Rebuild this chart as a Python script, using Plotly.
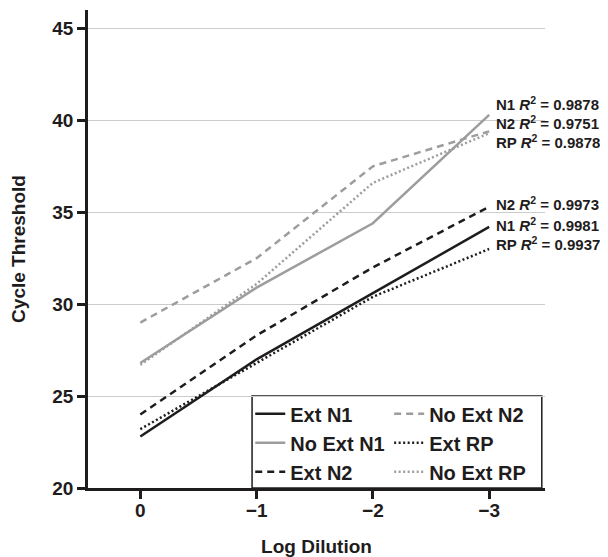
import plotly.graph_objects as go

# ---- data ----
log_dilution = [0, -1, -2, -3]
ext_n1 = [22.8, 27.0, 30.6, 34.2]
no_ext_n1 = [26.8, 30.9, 34.4, 40.3]
ext_n2 = [24.0, 28.3, 32.0, 35.3]
no_ext_n2 = [29.0, 32.5, 37.5, 39.4]
ext_rp = [23.2, 26.8, 30.4, 33.0]
no_ext_rp = [26.7, 31.1, 36.6, 39.3]

y_ticks = [20, 25, 30, 35, 40, 45]

# R^2 labels (right side), top group = No Ext, bottom group = Ext
r2_labels = ["N1", "N2", "RP", "N2", "N1", "RP"]
r2_values = ["0.9878", "0.9751", "0.9878", "0.9973", "0.9981", "0.9937"]
r2_label_y = [40.91, 39.88, 38.84, 35.45, 34.33, 33.30]

BLACK = "#1f1c1d"
GRAY = "#9d9d9d"
FONT = "Liberation Sans"
DASH = "7px,5px"
DOT = "2px,2.5px"

# (name, values, colour, dash, legend column)
series = [
    ("Ext N1", ext_n1, BLACK, "solid", "legend"),
    ("No Ext N1", no_ext_n1, GRAY, "solid", "legend"),
    ("Ext N2", ext_n2, BLACK, DASH, "legend"),
    ("No Ext N2", no_ext_n2, GRAY, DASH, "legend2"),
    ("Ext RP", ext_rp, BLACK, DOT, "legend2"),
    ("No Ext RP", no_ext_rp, GRAY, DOT, "legend2"),
]

fig = go.Figure()
for name, vals, color, dash, leg in series:
    fig.add_trace(go.Scatter(
        x=log_dilution, y=vals, mode="lines", name=name,
        line=dict(color=color, width=2.5, dash=dash),
        legend=leg,
    ))

for lab, val, yv in zip(r2_labels, r2_values, r2_label_y):
    fig.add_annotation(
        x=0.889, xref="paper", y=yv, yref="y",
        text=f"<b>{lab} <i>R</i><sup>2</sup> = {val}</b>",
        showarrow=False, xanchor="left", yanchor="middle",
        font=dict(family=FONT, size=15, color=BLACK),
    )

# legend frame (one box around both legend columns)
fig.add_shape(
    type="rect", xref="paper", yref="y",
    x0=0.359, x1=0.993, y0=20, y1=25,
    line=dict(color=BLACK, width=1.5), fillcolor="white", layer="below",
)

leg_common = dict(
    orientation="v", yanchor="top", y=0.196, xanchor="left",
    bgcolor="rgba(0,0,0,0)", borderwidth=0,
    font=dict(family=FONT, size=20, color=BLACK, weight="bold"),
    tracegroupgap=0, traceorder="normal",
)

fig.update_layout(
    width=600, height=549,
    margin=dict(l=80, r=63, t=2, b=69),
    paper_bgcolor="white", plot_bgcolor="white",
    font=dict(family=FONT, size=19, color=BLACK, weight="bold"),
    showlegend=True,
    legend=dict(x=0.355, **leg_common),
    legend2=dict(x=0.659, **leg_common),
    xaxis=dict(
        range=[0.45, -3.48],
        tickvals=log_dilution,
        ticks="outside", ticklen=8, tickwidth=2.5, tickcolor=BLACK,
        showline=True, linecolor=BLACK, linewidth=2.5,
        showgrid=False, zeroline=False, automargin=False,
        ticklabelstandoff=-5,
        tickfont=dict(family=FONT, size=19, color=BLACK, weight="bold"),
        title=dict(text="<b>Log Dilution</b>", standoff=29,
                   font=dict(family=FONT, size=19, color=BLACK)),
    ),
    yaxis=dict(
        range=[20, 46],
        tickvals=y_ticks,
        ticks="outside", ticklen=8, tickwidth=2.5, tickcolor=BLACK,
        showline=True, linecolor=BLACK, linewidth=2.5,
        showgrid=True, gridcolor="#cccccc", gridwidth=1,
        zeroline=False, automargin=False,
        tickfont=dict(family=FONT, size=19, color=BLACK, weight="bold"),
        title=dict(text="<b>Cycle Threshold</b>", standoff=24,
                   font=dict(family=FONT, size=19, color=BLACK)),
    ),
)

fig.write_html("out.html")
